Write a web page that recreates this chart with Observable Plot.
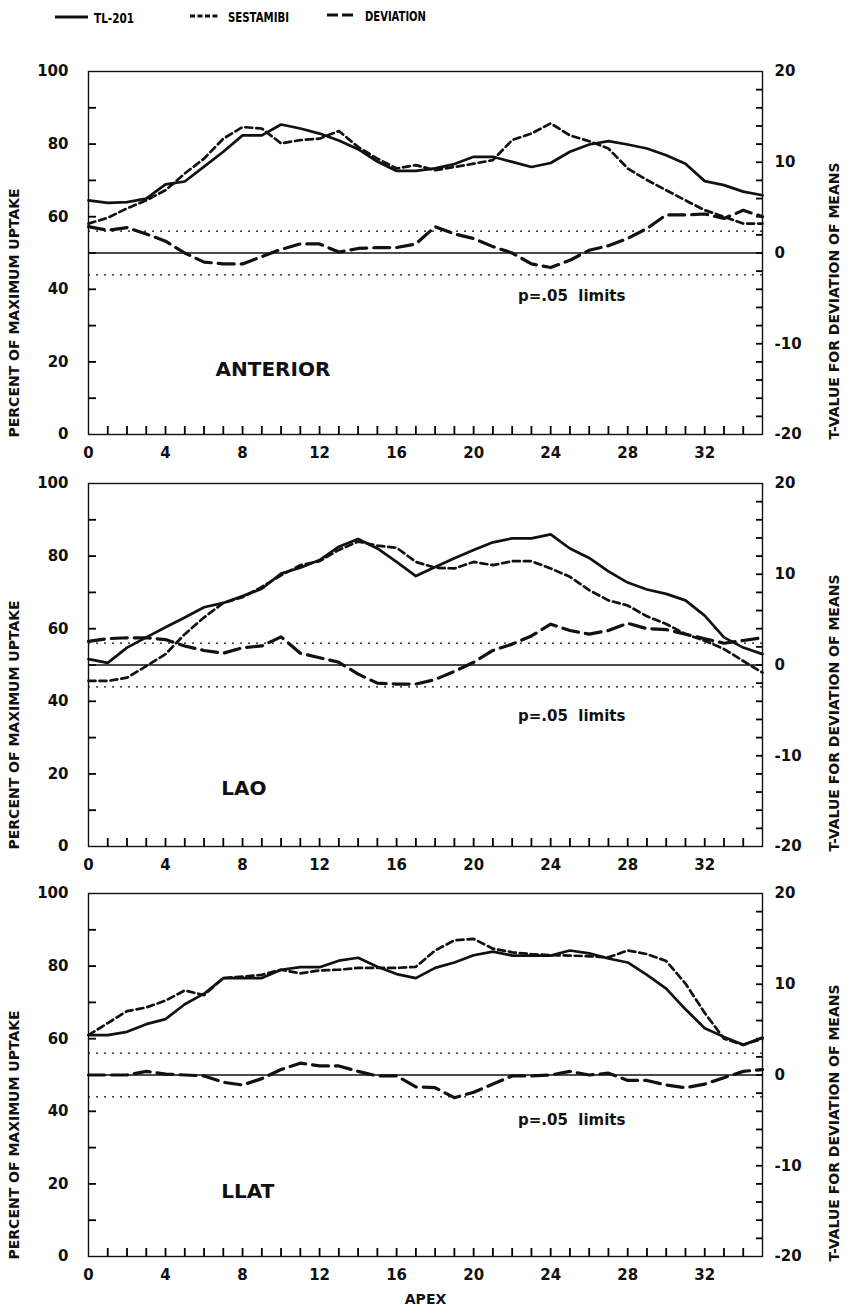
<!DOCTYPE html>
<html>
<head>
<meta charset="utf-8">
<script src="https://cdn.jsdelivr.net/npm/d3@7"></script>
<script src="https://cdn.jsdelivr.net/npm/@observablehq/plot@0.6"></script>
<style>
  html, body { margin: 0; padding: 0; background: #fff; overflow: hidden; }
  #root { position: relative; width: 855px; height: 1313px; font-family: "DejaVu Sans", sans-serif; }
  #root svg { position: absolute; left: 0; overflow: visible; }
  .legend { position: absolute; top: 5px; left: 0; width: 855px; height: 24px; }
</style>
</head>
<body>
<div id="root"></div>
<script>
// ---------- data ----------
const apex = d3.range(0, 36);                 // positions 0..35
const xTickLabels = [0, 4, 8, 12, 16, 20, 24, 28, 32];
const leftTickLabels = [0, 20, 40, 60, 80, 100];
const leftMinorTicks = [10, 20, 30, 40, 50, 60, 70, 80, 90];
const rightTickLabels = [-20, -10, 0, 10, 20];
const rightMinorTicks = [-18, -16, -14, -12, -10, -8, -6, -4, -2, 0, 2, 4, 6, 8, 10, 12, 14, 16, 18];
const pLimits = [2.4, -2.4];                  // p=.05 limits (t-value)
const panelNames = ["ANTERIOR", "LAO", "LLAT"];
const seriesNames = ["TL-201", "SESTAMIBI", "DEVIATION"];

// ANTERIOR
const tl1  = [64.5,63.8,64,65,68.9,69.7,73.8,77.9,82.4,82.4,85.4,84.3,82.9,81,78.6,75.2,72.6,72.6,73.3,74.5,76.5,76.5,75.1,73.7,74.8,77.9,79.9,80.8,79.9,78.8,76.9,74.6,69.8,68.7,66.9,65.9];
const ses1 = [58.1,59.7,62.3,64.5,67.3,71.9,76,81.5,84.7,84.3,80.2,81.1,81.5,83.6,79.2,76,73.3,74.2,72.8,73.7,74.6,75.6,81.1,82.9,85.7,82.4,80.8,78.8,73.3,70.1,67.3,64.5,61.8,60,58.1,58.1];
const dev1 = [2.9,2.5,2.8,2.1,1.3,0,-1.0,-1.2,-1.2,-0.4,0.4,1.0,1.0,0.1,0.5,0.6,0.6,1.0,2.9,2.1,1.6,0.7,0,-1.2,-1.6,-0.8,0.3,0.8,1.6,2.7,4.2,4.2,4.3,3.8,4.7,4.0];
// LAO
const tl2  = [51.6,50.6,54.8,57.6,60.4,63.1,65.9,67.1,69,71,75.2,76.8,78.9,82.6,84.7,82.1,78.4,74.5,77,79.4,81.7,83.8,84.9,84.9,86,82.1,79.5,75.8,72.7,70.8,69.6,67.8,63.6,57.6,54.8,53];
const ses2 = [45.6,45.6,46.5,49.7,53,58.5,63.1,67.1,68.7,71.5,74.7,77.5,78.6,81.7,84,82.9,82.3,78.4,76.8,76.6,78.4,77.5,78.6,78.6,76.6,74.3,70.6,67.8,66.4,63.4,61.3,58.5,56.7,54.4,51.1,47.9];
const dev2 = [2.6,2.9,3.0,3.0,2.8,2.1,1.6,1.3,1.9,2.1,3.1,1.3,0.8,0.3,-1.0,-2.0,-2.1,-2.1,-1.6,-0.7,0.3,1.6,2.3,3.2,4.5,3.8,3.4,3.8,4.6,4.0,3.9,3.4,2.9,2.4,2.7,3.0];
// LLAT
const tl3  = [61,61,61.9,64,65.4,69.5,72.4,76.7,76.7,76.7,79,79.7,79.7,81.5,82.3,79.8,77.8,76.7,79.5,81,83,84,82.9,82.9,82.9,84.3,83.5,82.1,81,77.6,73.8,68.1,62.9,60.5,58.3,60.3];
const ses3 = [61,64.3,67.6,68.6,70.5,73.3,72,76.7,77.1,77.6,79,78,78.8,79,79.5,79.5,79.5,79.8,84.3,87.1,87.5,84.8,83.8,83.3,83,82.9,82.7,82.4,84.3,83.3,81.4,75.2,67.1,60,58.3,60];
const dev3 = [0,0,0,0.4,0.1,0,-0.1,-0.8,-1.1,-0.4,0.6,1.3,1.0,1.0,0.4,-0.1,-0.1,-1.3,-1.4,-2.5,-1.9,-1.0,-0.1,-0.1,0,0.4,0,0.2,-0.6,-0.6,-1.1,-1.4,-1.0,-0.3,0.4,0.6];

// panel annotation positions (data units)
const panelLabelPos = [{x: 6.6, y: 18}, {x: 6.9, y: 16}, {x: 6.9, y: 18}];
const pLabelPos = [{x: 22.3, y: 38}, {x: 22.3, y: 36}, {x: 22.3, y: 37.5}];

// ---------- styles ----------
const FONT = "DejaVu Sans, sans-serif";
const styles = {
  tl:  {stroke: "#111", strokeWidth: 2.7},
  ses: {stroke: "#111", strokeWidth: 2.7, strokeDasharray: "7,4"},
  dev: {stroke: "#111", strokeWidth: 3.2, strokeDasharray: "16,7"}
};

// right axis: t-value mapped onto the left percent scale (t = -20..20 <-> 0..100)
const tToV = t => 50 + 2.5 * t;
const vToT = v => Math.round((v - 50) / 2.5);

const root = document.getElementById("root");

// legend
const legend = document.createElement("div");
legend.className = "legend";
legend.innerHTML = `
<svg width="855" height="26" style="position:absolute;top:0;left:0;font-family:'DejaVu Sans',sans-serif;font-weight:bold;font-size:14px">
  <line x1="55" x2="88" y1="12" y2="12" stroke="#111" stroke-width="3"/>
  <text x="94" y="18" textLength="40" lengthAdjust="spacingAndGlyphs">${seriesNames[0]}</text>
  <line x1="190" x2="218" y1="11" y2="11" stroke="#111" stroke-width="2.8" stroke-dasharray="5,2.5"/>
  <text x="228" y="17" textLength="61" lengthAdjust="spacingAndGlyphs">${seriesNames[1]}</text>
  <line x1="327" x2="356" y1="10" y2="10" stroke="#111" stroke-width="3" stroke-dasharray="11,4"/>
  <text x="365" y="16" textLength="61" lengthAdjust="spacingAndGlyphs">${seriesNames[2]}</text>
</svg>`;
root.appendChild(legend);

const W = 855, mL = 88, mR = 93;
const frameW = W - mL - mR;
const frameH = 363;
const panelTops = [71, 483, 893];
const TICK = 8;

function panel(i, tl, ses, dev) {
  const rows = apex.map((a, k) => ({a, tl: tl[k], ses: ses[k], dev: dev[k]}));
  const last = i === 2;
  const mTop = 12, mBottom = last ? 62 : 32;
  const svg = Plot.plot({
    width: W,
    height: mTop + frameH + mBottom,
    marginLeft: mL, marginRight: mR, marginTop: mTop, marginBottom: mBottom,
    x: {domain: [0, 35]},
    y: {domain: [0, 100]},
    style: {fontFamily: FONT, fontWeight: "bold", fontSize: "15px", color: "#111", background: "transparent"},
    marks: [
      Plot.frame({stroke: "#111", strokeWidth: 1.4}),
      // inward ticks (full-frame ticks inset down to a few pixels at the edge)
      Plot.tickX(apex.slice(1, 35), {x: d => d, insetTop: frameH - TICK, stroke: "#000", strokeWidth: 1.8}),
      Plot.tickY(leftMinorTicks, {y: d => d, insetRight: frameW - TICK, stroke: "#000", strokeWidth: 1.8}),
      Plot.tickY(rightMinorTicks.map(tToV), {y: d => d, insetLeft: frameW - TICK + 2, stroke: "#000", strokeWidth: 1.8}),
      // labels
      Plot.axisX({ticks: xTickLabels, tickSize: 0, tickPadding: 13, label: null, fontSize: 15}),
      Plot.axisY({ticks: leftTickLabels, tickSize: 0, tickPadding: 20, label: null, fontSize: 15}),
      Plot.axisY({anchor: "right", ticks: rightTickLabels.map(tToV), tickFormat: vToT, tickSize: 0, tickPadding: 12, label: null, fontSize: 15}),
      // reference lines
      Plot.ruleY([tToV(0)], {stroke: "#111", strokeWidth: 1.4}),
      Plot.ruleY(pLimits.map(tToV), {stroke: "#111", strokeWidth: 1.3, strokeDasharray: "2,6"}),
      // series
      Plot.line(rows, {x: "a", y: "tl", ...styles.tl}),
      Plot.line(rows, {x: "a", y: "ses", ...styles.ses}),
      Plot.line(rows, {x: "a", y: d => tToV(d.dev), ...styles.dev}),
      // annotations
      Plot.text([panelNames[i]], {x: panelLabelPos[i].x, y: panelLabelPos[i].y, text: d => d, textAnchor: "start", fontSize: 20, fontWeight: "bold"}),
      Plot.text(["p=.05\u00a0\u00a0limits"], {x: pLabelPos[i].x, y: pLabelPos[i].y, text: d => d, textAnchor: "start", fontSize: 15, fontWeight: "bold"}),
      Plot.text(["PERCENT OF MAXIMUM UPTAKE"], {frameAnchor: "bottom-left", dx: -70, dy: 3, rotate: -90, textAnchor: "start", text: d => d, fontSize: 14, fontWeight: "bold", ariaLabel: "ytitle"}),
      Plot.text(["T-VALUE FOR DEVIATION OF MEANS"], {frameAnchor: "bottom-right", dx: 76, dy: 5, rotate: -90, textAnchor: "start", text: d => d, fontSize: 14, fontWeight: "bold", ariaLabel: "rtitle"}),
      last ? Plot.text(["APEX"], {frameAnchor: "bottom", dy: 47, text: d => d, fontSize: 14, fontWeight: "bold"}) : null
    ]
  });
  svg.style.top = (panelTops[i] - mTop) + "px";
  svg.querySelectorAll('g[aria-label="ytitle"] text').forEach(t => { t.setAttribute("textLength", 362); t.setAttribute("lengthAdjust", "spacing"); });
  svg.querySelectorAll('g[aria-label="rtitle"] text').forEach(t => { t.setAttribute("textLength", 380); t.setAttribute("lengthAdjust", "spacing"); });
  root.appendChild(svg);
}

panel(0, tl1, ses1, dev1);
panel(1, tl2, ses2, dev2);
panel(2, tl3, ses3, dev3);
</script>
</body>
</html>
